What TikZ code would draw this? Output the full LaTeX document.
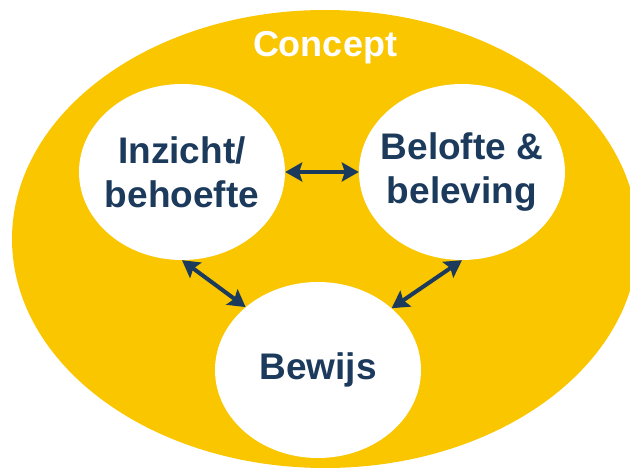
\documentclass[tikz,border=0pt]{standalone}
\usepackage{fontspec}
\setmainfont{Liberation Sans}
\usetikzlibrary{shapes.geometric,arrows.meta}
\definecolor{conceptYellow}{RGB}{249,198,0}
\definecolor{conceptNavy}{RGB}{28,58,92}
\tikzset{
  bubble/.style={ellipse, fill=white, inner sep=0pt, minimum width=206pt, minimum height=176pt},
  caption/.style={inner sep=0pt, align=center, text=conceptNavy, font=\fontsize{37}{44}\selectfont\bfseries},
  link/.style={{Stealth[length=17pt,width=19pt,inset=3pt]}-{Stealth[length=17pt,width=19pt,inset=3pt]}, line width=4pt, draw=conceptNavy}
}
\begin{document}
\begin{tikzpicture}[x=1pt,y=-1pt]
\clip (0,0) rectangle (630,468);
% outer concept ellipse
\node[ellipse, fill=conceptYellow, inner sep=0pt, minimum width=626pt, minimum height=458pt] (concept) at (325,239) {};
\node[anchor=base, inner sep=0pt, text=white, font=\fontsize{36}{44}\selectfont\bfseries] (conceptlabel) at (325,57) {Concept};
% the three bubbles
\node[bubble] (insight) at (182,172) {};
\node[bubble] (promise) at (462,172) {};
\node[bubble] (proof) at (318,370) {};
\node[caption] (insighttext) at (insight) {Inzicht/\\behoefte};
\node[caption] (promisetext) at (promise) {Belofte \&\\beleving};
\node[caption] (prooftext) at (proof) {Bewijs};
% links
\draw[link] (insight.east) -- (promise.west);
\draw[link] (insight.south) -- (proof.139);
\draw[link] (promise.south) -- (proof.40);
\end{tikzpicture}
\end{document}
